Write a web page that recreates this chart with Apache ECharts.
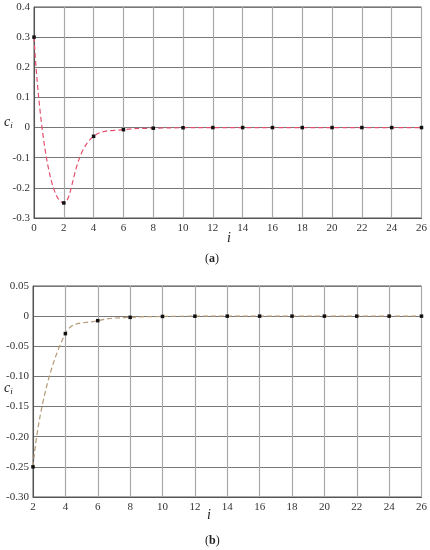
<!DOCTYPE html>
<html>
<head>
<meta charset="utf-8">
<script src="https://cdn.jsdelivr.net/npm/echarts@6/dist/echarts.min.js"></script>
<style>
  html, body { margin: 0; padding: 0; background: #fff; }
  #chart { width: 430px; height: 550px; }
</style>
</head>
<body>
<div id="chart"></div>
<script>
// index i (x axis)
const iA = [0, 2, 4, 6, 8, 10, 12, 14, 16, 18, 20, 22, 24, 26];
const iB = [2, 4, 6, 8, 10, 12, 14, 16, 18, 20, 22, 24, 26];
// coefficients c_i
const cA = [0.3, -0.25, -0.029, -0.007, -0.002, -0.0005, 0, 0, 0, 0, 0, 0, 0, 0];
const cB = [-0.25, -0.029, -0.0075, -0.002, -0.0005, -0.0001, 0, 0, 0, 0, 0, 0, 0];
// y tick labels
const ticksA = ["-0.3", "-0.2", "-0.1", "0", "0.1", "0.2", "0.3", "0.4"];
const ticksB = ["-0.30", "-0.25", "-0.20", "-0.15", "-0.10", "-0.05", "0", "0.05"];

const FONT = "Liberation Serif";
const chart = echarts.init(document.getElementById("chart"));

const toPairs = (xs, ys) => xs.map((x, k) => [x, ys[k]]);

// y value -> label from the named tick arrays
const tickFmt = (ticks, min, step) => (v) => {
  const k = Math.round((v - min) / step);
  return ticks[k] !== undefined ? ticks[k] : "";
};

const xAxisBase = {
  type: "value",
  interval: 2,
  max: 26,
  axisTick: { show: false },
  axisLine: { show: true, onZero: false, lineStyle: { color: "#555", width: 1 } },
  axisLabel: { color: "#333", fontFamily: FONT, fontSize: 11, margin: 5 },
  splitLine: { show: true, lineStyle: { color: "#a8a8a8", width: 1.2 } },
};
const yAxisBase = {
  type: "value",
  axisTick: { show: false },
  axisLine: { show: true, lineStyle: { color: "#555", width: 1 } },
  axisLabel: { color: "#333", fontFamily: FONT, fontSize: 11, margin: 4 },
  splitLine: { show: true, lineStyle: { color: "#777", width: 1 } },
};

const lineBase = {
  type: "line",
  smooth: 0.5,
  symbol: "rect",
  symbolSize: 3.5,
  itemStyle: { color: "#111" },
  animation: false,
};

const textStyle = (extra) => Object.assign({ fontFamily: FONT, fill: "#222" }, extra);
const ciRich = {
  c: { fontFamily: FONT, fontStyle: "italic", fontSize: 14, fill: "#222" },
  s: { fontFamily: FONT, fontStyle: "italic", fontSize: 9, fill: "#222", padding: [8, 0, 0, 0] },
};

const option = {
  animation: false,
  grid: [
    { left: 34, top: 7, width: 388, height: 211, show: true, borderColor: "#555", borderWidth: 1 },
    { left: 33, top: 286, width: 389, height: 211, show: true, borderColor: "#555", borderWidth: 1 },
  ],
  xAxis: [
    Object.assign({}, xAxisBase, { gridIndex: 0, min: 0 }),
    Object.assign({}, xAxisBase, { gridIndex: 1, min: 2 }),
  ],
  yAxis: [
    Object.assign({}, yAxisBase, {
      gridIndex: 0, min: -0.3, max: 0.4, interval: 0.1,
      axisLabel: Object.assign({}, yAxisBase.axisLabel, { formatter: tickFmt(ticksA, -0.3, 0.1) }),
    }),
    Object.assign({}, yAxisBase, {
      gridIndex: 1, min: -0.3, max: 0.05, interval: 0.05,
      axisLabel: Object.assign({}, yAxisBase.axisLabel, { formatter: tickFmt(ticksB, -0.3, 0.05) }),
    }),
  ],
  series: [
    Object.assign({}, lineBase, {
      xAxisIndex: 0, yAxisIndex: 0,
      data: toPairs(iA, cA),
      lineStyle: { color: "#e4506c", width: 1.2, type: [5, 3] },
    }),
    Object.assign({}, lineBase, {
      xAxisIndex: 1, yAxisIndex: 1,
      data: toPairs(iB, cB),
      lineStyle: { color: "#b39a74", width: 1.2, type: [5, 3] },
    }),
  ],
  graphic: [
    // c_i labels
    { type: "text", left: 4, top: 115, style: textStyle({ text: "{c|c}{s|i}", rich: ciRich }) },
    { type: "text", left: 4, top: 381, style: textStyle({ text: "{c|c}{s|i}", rich: ciRich }) },
    // i labels
    { type: "text", left: 227, top: 231, style: textStyle({ text: "i", fontStyle: "italic", fontSize: 14 }) },
    { type: "text", left: 207, top: 508, style: textStyle({ text: "i", fontStyle: "italic", fontSize: 14 }) },
    // panel captions
    { type: "text", left: 205, top: 253, style: textStyle({
        text: "({b|a})", fontSize: 12,
        rich: { b: { fontFamily: FONT, fontWeight: "bold", fontSize: 12, fill: "#222" } },
      }) },
    { type: "text", left: 205, top: 535, style: textStyle({
        text: "({b|b})", fontSize: 12,
        rich: { b: { fontFamily: FONT, fontWeight: "bold", fontSize: 12, fill: "#222" } },
      }) },
  ],
};

chart.setOption(option);
</script>
</body>
</html>
